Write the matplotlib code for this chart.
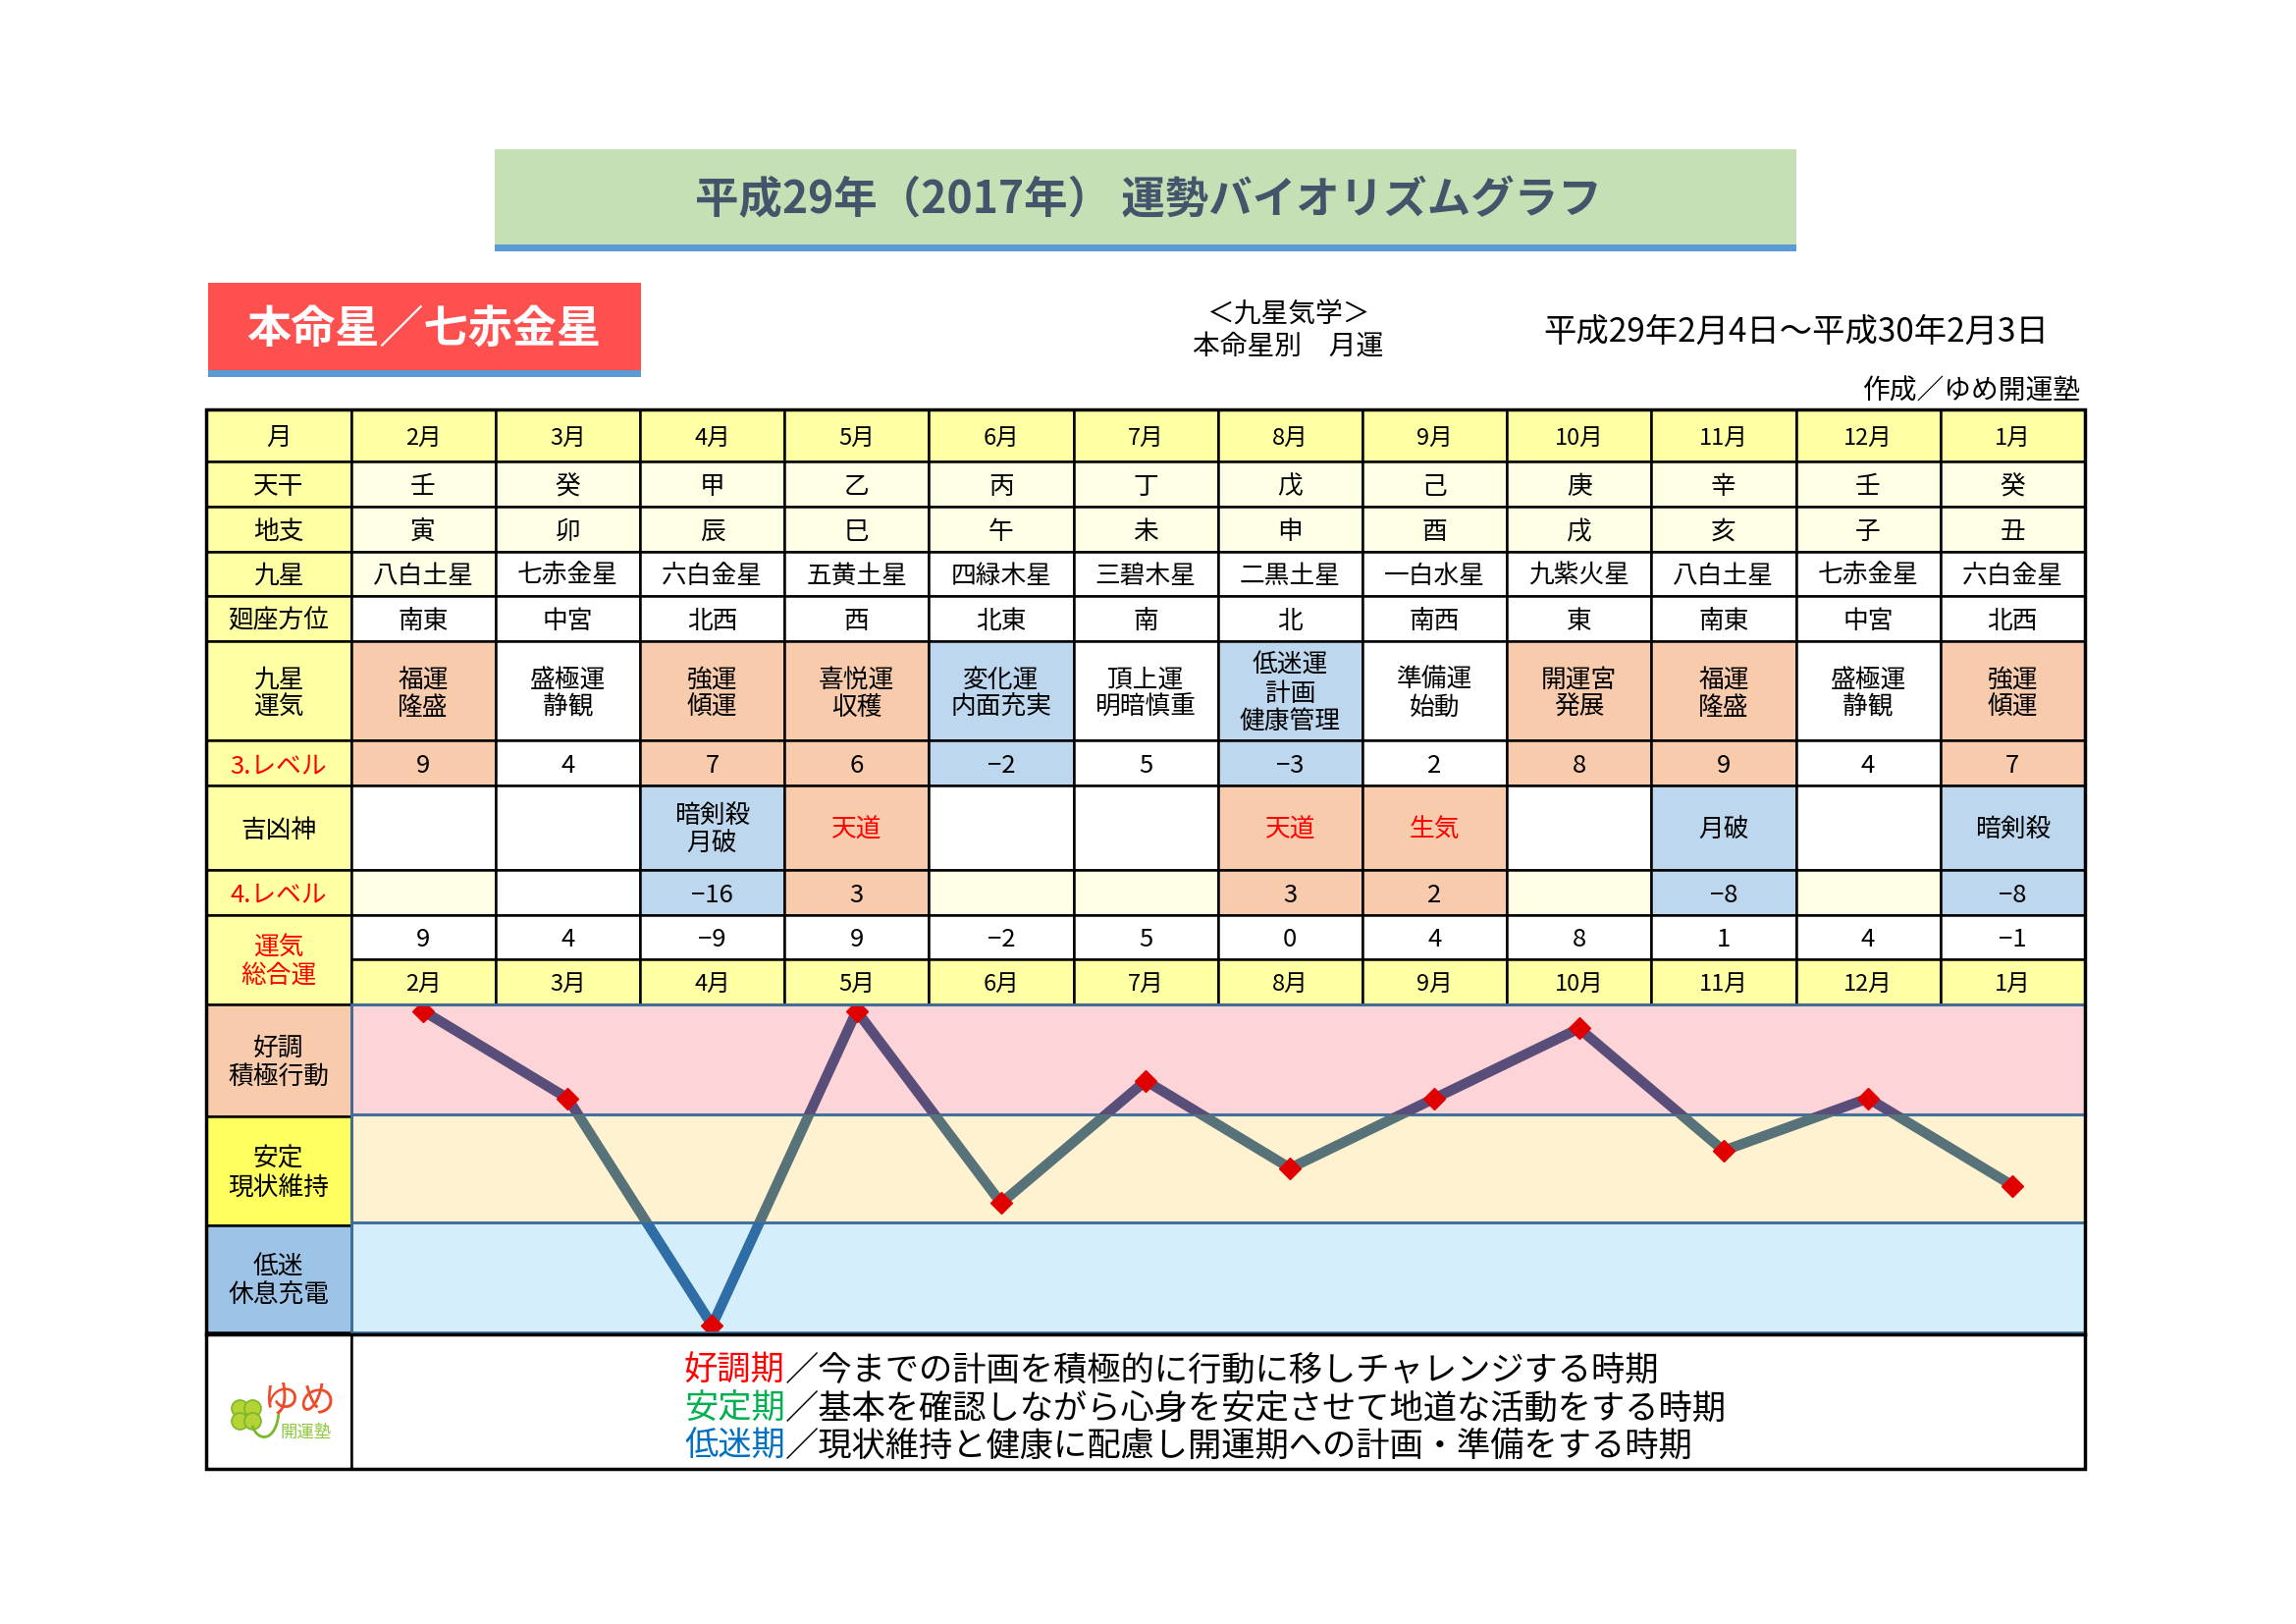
import matplotlib
matplotlib.use('Agg')
import matplotlib.pyplot as plt
from matplotlib.patches import Rectangle, Circle, PathPatch
from matplotlib.path import Path
import numpy as np

plt.rcParams['font.family'] = ['Noto Sans CJK JP', 'DejaVu Sans']

# ---------------- data ----------------
months = ['2月', '3月', '4月', '5月', '6月', '7月', '8月', '9月', '10月', '11月', '12月', '1月']
tenkan = ['壬', '癸', '甲', '乙', '丙', '丁', '戊', '己', '庚', '辛', '壬', '癸']
chishi = ['寅', '卯', '辰', '巳', '午', '未', '申', '酉', '戌', '亥', '子', '丑']
kyusei = ['八白土星', '七赤金星', '六白金星', '五黄土星', '四緑木星', '三碧木星',
          '二黒土星', '一白水星', '九紫火星', '八白土星', '七赤金星', '六白金星']
kaiza = ['南東', '中宮', '北西', '西', '北東', '南', '北', '南西', '東', '南東', '中宮', '北西']
unki = ['福運\n隆盛', '盛極運\n静観', '強運\n傾運', '喜悦運\n収穫', '変化運\n内面充実',
        '頂上運\n明暗慎重', '低迷運\n計画\n健康管理', '準備運\n始動', '開運宮\n発展',
        '福運\n隆盛', '盛極運\n静観', '強運\n傾運']
level3 = [9, 4, 7, 6, -2, 5, -3, 2, 8, 9, 4, 7]
kikkyo = ['', '', '暗剣殺\n月破', '天道', '', '', '天道', '生気', '', '月破', '', '暗剣殺']
level4 = [None, None, -16, 3, None, None, 3, 2, None, -8, None, -8]
total = [9, 4, -9, 9, -2, 5, 0, 4, 8, 1, 4, -1]
row_labels = ['月', '天干', '地支', '九星', '廻座方位', '九星\n運気', '3.レベル', '吉凶神', '4.レベル', '運気\n総合運']
band_labels = ['好調\n積極行動', '安定\n現状維持', '低迷\n休息充電']
legend_heads = ['好調期', '安定期', '低迷期']
legend_bodies = ['／今までの計画を積極的に行動に移しチャレンジする時期',
                 '／基本を確認しながら心身を安定させて地道な活動をする時期',
                 '／現状維持と健康に配慮し開運期への計画・準備をする時期']
title = '平成29年（2017年） 運勢バイオリズムグラフ'
honmei = '本命星／七赤金星'
sub1 = '＜九星気学＞'
sub2 = '本命星別　月運'
period = '平成29年2月4日～平成30年2月3日'
author = '作成／ゆめ開運塾'

# ---------------- style ----------------
HDR = '#FFFFA3'
PALE = '#FFFFE6'
ORANGE = '#F8CBAD'
BLUE = '#BDD7EE'
WHITE = '#FFFFFF'
BAND_LABEL_FC = ['#F8CBAD', '#FFFF60', '#9DC3E6']
BAND_FC = ['#FDD5D8', '#FFF2D1', '#D4EFFB']
LINE_C = ['#594D7A', '#587279', '#2E6DA5']
LEG_C = ['#FF0000', '#00B050', '#0070C0']
DY = 3  # small downward text offset

W, H = 2339, 1654
fig = plt.figure(figsize=(W / 100, H / 100), dpi=100)
fig.patch.set_facecolor('white')
ax = fig.add_axes([0, 0, 1, 1], zorder=2)
ax.set_xlim(0, W)
ax.set_ylim(H, 0)
ax.axis('off')
ax.patch.set_visible(False)

X0, XC, CW = 210, 357.5, 147.2
X1 = XC + 12 * CW
Y = [416.5, 470, 516, 561.5, 606.5, 653, 754, 800, 886, 931.5, 977, 1022.5,
     1136.5, 1247.5, 1357, 1496]


def cell(x0, y0, x1, y1, fc, ec='black', lw=1.8, z=1):
    ax.add_patch(Rectangle((x0, y0), x1 - x0, y1 - y0, facecolor=fc,
                           edgecolor=ec, lw=lw, zorder=z))


def txt(x, y, s, size=18.5, color='black', ha='center', **kw):
    return ax.text(x, y + DY, s, fontsize=size, color=color, ha=ha, va='center',
                   linespacing=1.12, zorder=5, **kw)


def cx(i):
    return XC + CW * (i + 0.5)


def fill3(v):
    if v >= 6:
        return ORANGE
    if v < 0:
        return BLUE
    return WHITE


def fill4(v, empty):
    if v is None:
        return empty
    return ORANGE if v > 0 else BLUE


def num(v):
    return f'{v}'.replace('-', '−')


# ---------------- title blocks ----------------
cell(504, 152, 1830, 249, '#C5E0B4', ec='none')
cell(504, 249, 1830, 256, '#5B9BD5', ec='none')
txt(1170, 201, title, size=32, color='#44546A', fontweight='bold')

cell(211.5, 288, 653, 377, '#FF5050', ec='none')
cell(211.5, 377, 653, 384, '#5B9BD5', ec='none')
txt(432, 334, honmei, size=32.5, color='white', fontweight='bold')

txt(1312, 318, sub1, size=20)
txt(1312, 350, sub2, size=20)
txt(1830, 335, period, size=24)
txt(2120, 396, author, size=20, ha='right')

# ---------------- table ----------------
for r, lab in enumerate(row_labels):
    y0 = Y[r]
    y1 = Y[r + 2] if r == 9 else Y[r + 1]
    cell(X0, y0, XC, y1, HDR)
    red = r in (6, 8, 9)
    txt((X0 + XC) / 2, (y0 + y1) / 2, lab, color='#FF0000' if red else 'black')

for i in range(12):
    x0, x1 = XC + CW * i, XC + CW * (i + 1)
    c = cx(i)
    cell(x0, Y[0], x1, Y[1], HDR)
    txt(c, (Y[0] + Y[1]) / 2, months[i], size=17)
    cell(x0, Y[1], x1, Y[2], PALE)
    txt(c, (Y[1] + Y[2]) / 2, tenkan[i])
    cell(x0, Y[2], x1, Y[3], PALE)
    txt(c, (Y[2] + Y[3]) / 2, chishi[i])
    cell(x0, Y[3], x1, Y[4], PALE if i == 0 else WHITE)
    txt(c, (Y[3] + Y[4]) / 2, kyusei[i])
    cell(x0, Y[4], x1, Y[5], WHITE)
    txt(c, (Y[4] + Y[5]) / 2, kaiza[i])
    cell(x0, Y[5], x1, Y[6], fill3(level3[i]))
    txt(c, (Y[5] + Y[6]) / 2, unki[i])
    cell(x0, Y[6], x1, Y[7], fill3(level3[i]))
    txt(c, (Y[6] + Y[7]) / 2, num(level3[i]))
    cell(x0, Y[7], x1, Y[8], fill4(level4[i], WHITE))
    good = level4[i] is not None and level4[i] > 0
    txt(c, (Y[7] + Y[8]) / 2, kikkyo[i], color='#FF0000' if good else 'black')
    cell(x0, Y[8], x1, Y[9], fill4(level4[i], WHITE if i == 1 else PALE))
    if level4[i] is not None:
        txt(c, (Y[8] + Y[9]) / 2, num(level4[i]))
    cell(x0, Y[9], x1, Y[10], WHITE)
    txt(c, (Y[9] + Y[10]) / 2, num(total[i]))
    cell(x0, Y[10], x1, Y[11], HDR)
    txt(c, (Y[10] + Y[11]) / 2, months[i], size=17)

for k, lab in enumerate(band_labels):
    cell(X0, Y[11 + k], XC, Y[12 + k], BAND_LABEL_FC[k])
    txt((X0 + XC) / 2, (Y[11 + k] + Y[12 + k]) / 2, lab)

ax.add_patch(Rectangle((XC, Y[11]), X1 - XC, Y[14] - Y[11], facecolor='none',
                       edgecolor='#41719C', lw=2, zorder=2))
ax.plot([X0, X1], [Y[14] + 2, Y[14] + 2], color='black', lw=2.5, zorder=3)

cell(X0, Y[14] + 2, XC, Y[15], WHITE)
cell(XC, Y[14] + 2, X1, Y[15], WHITE)
ax.add_patch(Rectangle((X0, Y[0]), X1 - X0, Y[15] - Y[0], facecolor='none',
                       edgecolor='black', lw=2.5, zorder=3))

# logo
leaf_fc, leaf_ec = '#B5D334', '#78B82A'
for dx, dy in [(-6.5, -6.5), (6.5, -6.5), (-6.5, 6.5), (6.5, 6.5)]:
    ax.add_patch(Circle((251 + dx, 1441 + dy), 8.5, facecolor=leaf_fc,
                        edgecolor=leaf_ec, lw=1.2, zorder=4))
stem = Path([(257, 1452), (263, 1470), (282, 1468), (284, 1438)],
            [Path.MOVETO, Path.CURVE4, Path.CURVE4, Path.CURVE4])
ax.add_patch(PathPatch(stem, facecolor='none', edgecolor='#78B82A', lw=2, zorder=4))
txt(305, 1425, 'ゆめ', size=27, color='#EE4B2B')
txt(312, 1456, '開運塾', size=12.5, color='#8DC63F')

# ---------------- chart ----------------
cax = fig.add_axes([XC / W, 1 - Y[14] / H, (X1 - XC) / W, (Y[14] - Y[11]) / H], zorder=1)
cax.set_xlim(-0.5, 11.5)
cax.set_ylim(-9.4, 9.4)
cax.axis('off')
bands = [(3.1, 9.4), (-3.1, 3.1), (-9.4, -3.1)]
for (lo, hi), fc in zip(bands, BAND_FC):
    cax.axhspan(lo, hi, color=fc, lw=0, zorder=0)
for yb in (-3.1, 3.1):
    cax.axhline(yb, color='#41719C', lw=2.2, zorder=1)
xs = np.arange(len(total))
for (lo, hi), lc in zip(bands, LINE_C):
    ln, = cax.plot(xs, total, color=lc, lw=7.5, zorder=2, solid_joinstyle='miter')
    clip = Rectangle((-1, lo), 14, hi - lo, transform=cax.transData)
    ln.set_clip_path(clip)
cax.plot(xs, total, ls='none', marker='D', ms=11.5, color='#E00000', zorder=3)

# ---------------- legend text ----------------
fig.canvas.draw()
rend = fig.canvas.get_renderer()
LY = [1393, 1432, 1470]
for hd, bd, col, y in zip(legend_heads, legend_bodies, LEG_C, LY):
    t = txt(697, y, hd, size=24.7, color=col, ha='left')
    bb = t.get_window_extent(rend)
    txt(bb.x1, y, bd, size=24.7, ha='left')

fig.savefig('out.png', dpi=100, facecolor='white')
